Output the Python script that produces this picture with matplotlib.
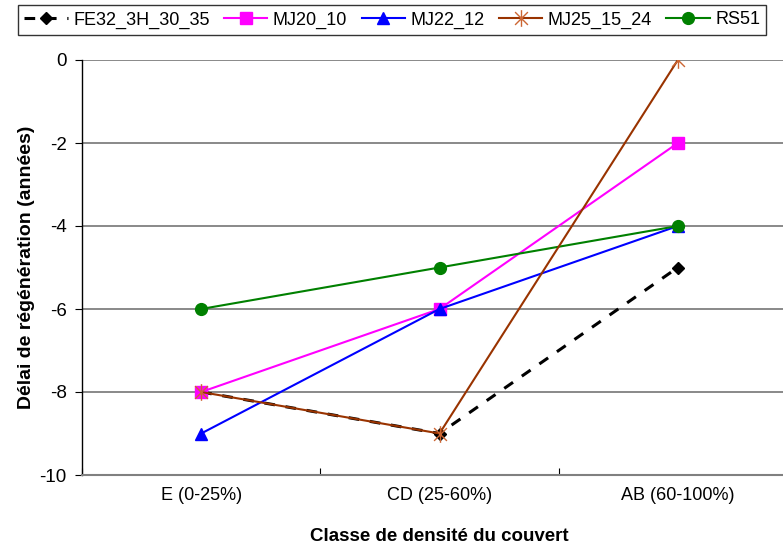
import matplotlib.pyplot as plt
from matplotlib.path import Path

plt.rcParams['font.family'] = ['Liberation Sans', 'DejaVu Sans']
plt.rcParams['axes.unicode_minus'] = False

# categories and series
classes = ["E (0-25%)", "CD (25-60%)", "AB (60-100%)"]
fe32_3h_30_35 = [-8, -9, -5]
mj20_10 = [-8, -6, -2]
mj22_12 = [-9, -6, -4]
mj25_15_24 = [-8, -9, 0]
rs51 = [-6, -5, -4]

# star marker: an x with a vertical bar through it
star = Path([(-1, -1), (1, 1), (-1, 1), (1, -1), (0, -1.3), (0, 1.3)],
            [Path.MOVETO, Path.LINETO, Path.MOVETO, Path.LINETO, Path.MOVETO, Path.LINETO])

fig = plt.figure(figsize=(7.83, 5.48), dpi=100)
ax = fig.add_axes([82 / 783, 1 - 475 / 548, 715 / 783, 415 / 548])

x = range(len(classes))
ax.plot(x, fe32_3h_30_35, color="black", linestyle=(0, (3.5, 3.5)), linewidth=2.2,
        marker="D", markersize=6, label="FE32_3H_30_35", zorder=3)
ax.plot(x, mj20_10, color="#FF00FF", linewidth=1.5, marker="s", markersize=8.5,
        label="MJ20_10", zorder=3)
ax.plot(x, mj22_12, color="#0000FF", linewidth=1.5, marker="^", markersize=8.5,
        label="MJ22_12", zorder=3)
ax.plot(x, mj25_15_24, color="#993300", linewidth=1.5, marker=star, markersize=12,
        markeredgewidth=1, markeredgecolor="#CC6633", label="MJ25_15_24", zorder=4)
ax.plot(x, rs51, color="#008000", linewidth=1.5, marker="o", markersize=8.5,
        label="RS51", zorder=3)

ax.set_xlim(-0.5, 2.5)
ax.set_ylim(-10, 0)
ax.set_yticks(range(-10, 1, 2))
ax.set_xticks(x)
ax.set_xticklabels(classes)
ax.set_xticks([-0.5, 0.5, 1.5, 2.5], minor=True)
ax.tick_params(axis="x", which="major", length=0, pad=9, labelsize=13)
ax.tick_params(axis="x", which="minor", length=5, direction="in", width=0.8)
ax.tick_params(axis="y", length=5, direction="out", width=0.8, labelsize=13.5, pad=6)
ax.yaxis.grid(True, color="#808080", linewidth=1.3)
ax.set_axisbelow(True)
for side in ["top", "right"]:
    ax.spines[side].set_visible(False)
ax.spines["left"].set_linewidth(1)
ax.spines["bottom"].set_color("#808080")
ax.spines["bottom"].set_linewidth(1.5)

ax.set_ylabel("Délai de régénération (années)", fontsize=14, fontweight="bold", labelpad=3)
ax.set_xlabel("Classe de densité du couvert", fontsize=13.5, fontweight="bold", labelpad=17)

leg = fig.legend(loc="upper left", bbox_to_anchor=(18 / 783, 1 - 5 / 548), ncol=5,
                 fontsize=13, frameon=True, fancybox=False, edgecolor="black",
                 handlelength=2.4, handletextpad=0.3, columnspacing=0.8,
                 borderpad=0.35, borderaxespad=0)
leg.get_frame().set_linewidth(1)

fig.savefig("out.png", dpi=100)
